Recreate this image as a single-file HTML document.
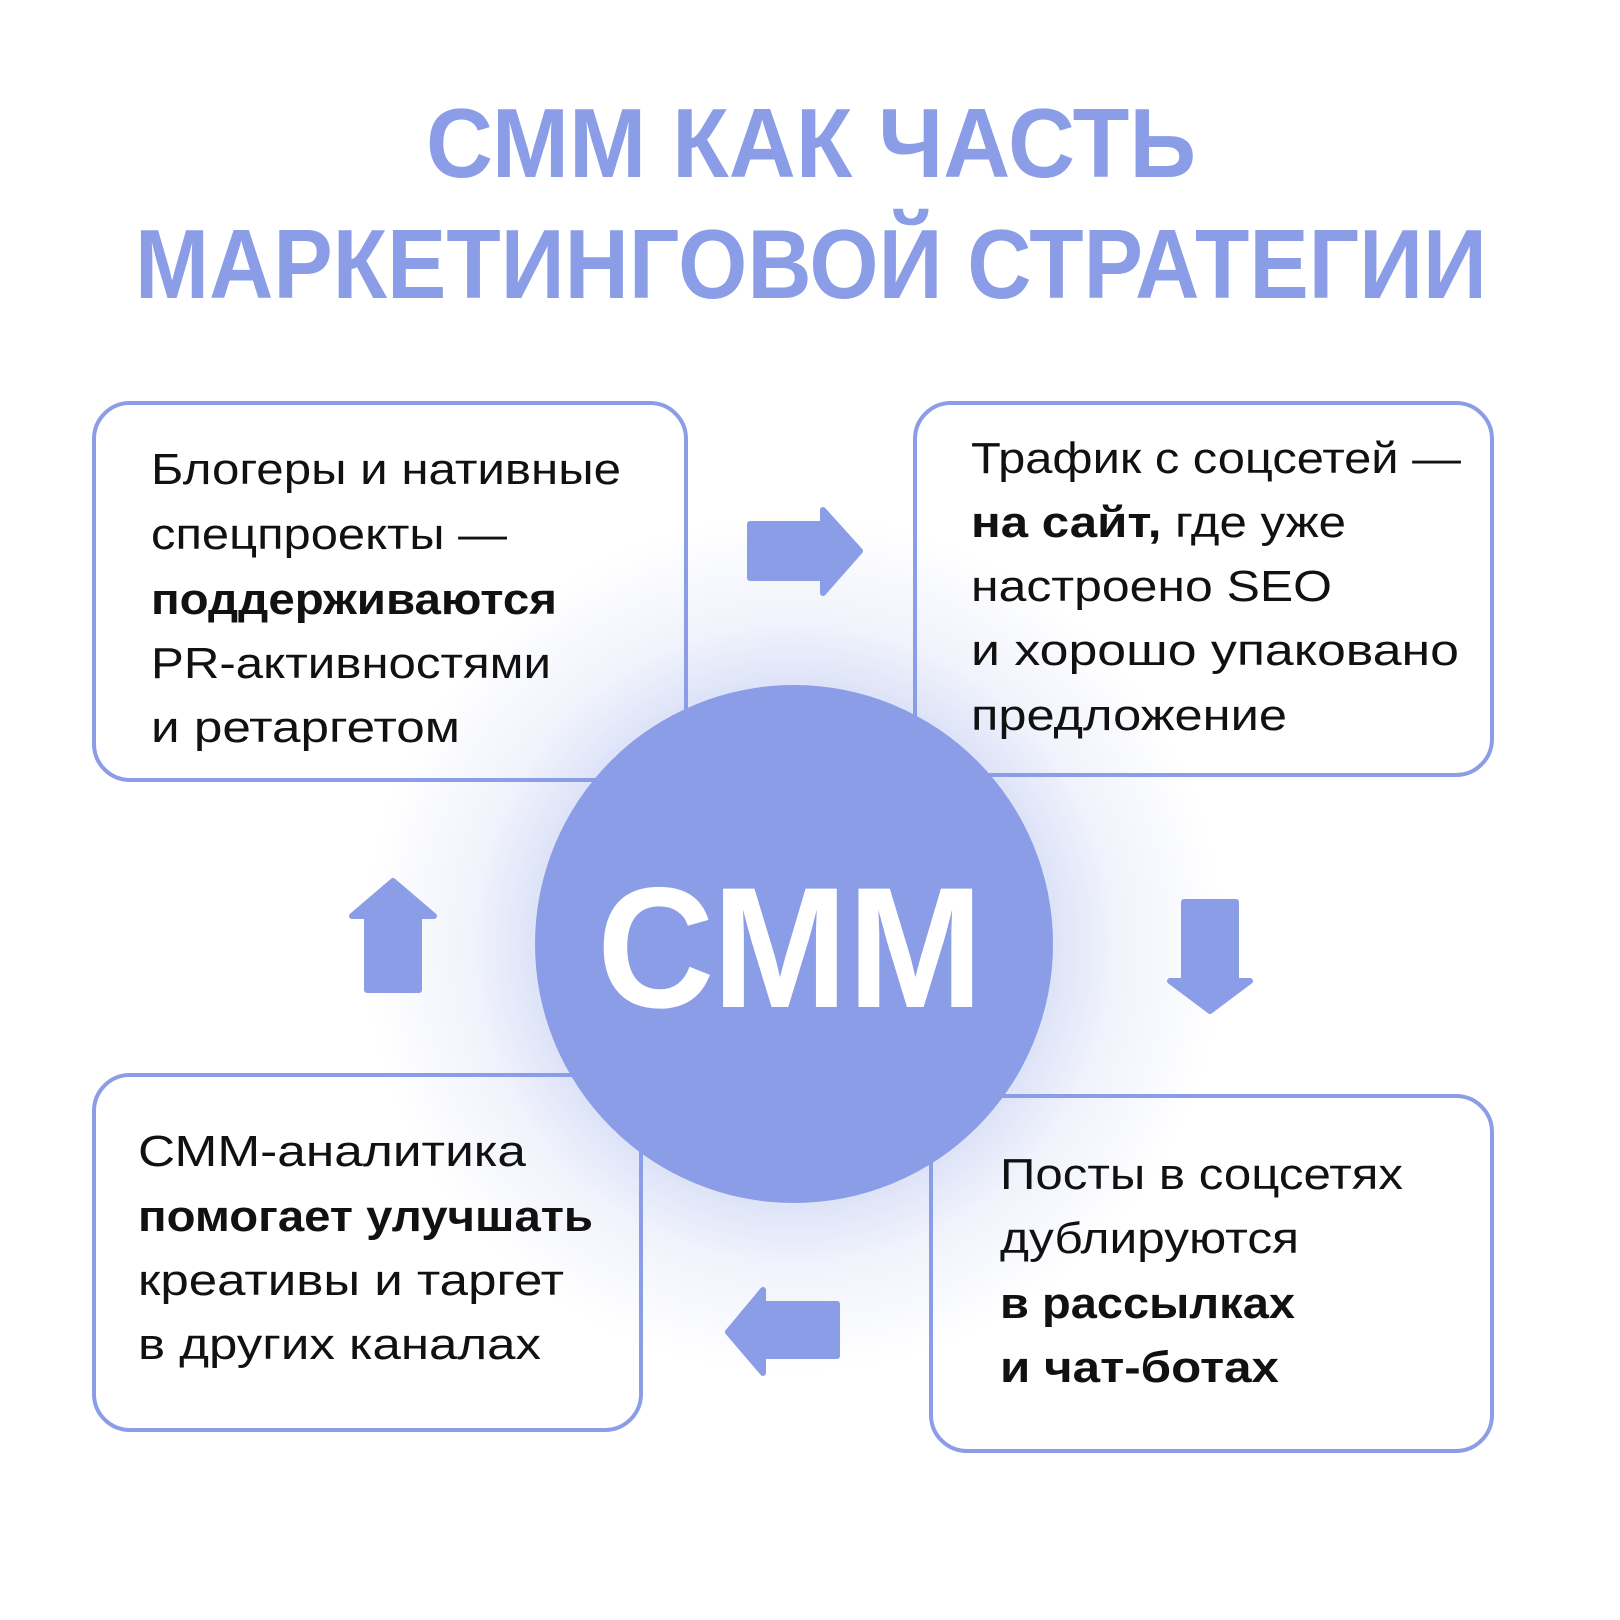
<!DOCTYPE html>
<html><head><meta charset="utf-8"><style>
html,body{margin:0;padding:0;background:#fff}
svg{display:block}
text{font-family:"Liberation Sans",sans-serif}
</style></head><body>
<svg width="1620" height="1620" viewBox="0 0 1620 1620" xmlns="http://www.w3.org/2000/svg">
<defs>
<radialGradient id="g" cx="794" cy="944" r="430" gradientUnits="userSpaceOnUse">
<stop offset="0.55" stop-color="#8a9de6" stop-opacity="0.35"/>
<stop offset="0.75" stop-color="#8a9de6" stop-opacity="0.12"/>
<stop offset="1" stop-color="#8a9de6" stop-opacity="0"/>
</radialGradient>
</defs>
<rect width="1620" height="1620" fill="#fff"/>
<g font-weight="bold" fill="#8a9de6" font-size="98" text-anchor="middle">
<text x="811" y="177" textLength="770" lengthAdjust="spacingAndGlyphs">СММ КАК ЧАСТЬ</text>
<text x="811" y="298" textLength="1352" lengthAdjust="spacingAndGlyphs">МАРКЕТИНГОВОЙ СТРАТЕГИИ</text>
</g>
<g fill="#fff" stroke="#8a9de6" stroke-width="4">
<rect x="94" y="403" width="592" height="377" rx="36"/>
<rect x="915" y="403" width="577" height="372" rx="36"/>
<rect x="94" y="1075" width="547" height="355" rx="36"/>
<rect x="931" y="1096" width="561" height="355" rx="36"/>
</g>
<circle cx="794" cy="944" r="430" fill="url(#g)"/>
<circle cx="794" cy="944" r="259" fill="#8a9de6"/>
<text x="790" y="1007" font-size="172" font-weight="bold" fill="#fff" text-anchor="middle" textLength="386" lengthAdjust="spacingAndGlyphs">СММ</text>
<g fill="#8a9de6" stroke="#8a9de6" stroke-width="6" stroke-linejoin="round">
<polygon points="750,524 823,524 823,510 860,551 823,593 823,578 750,578"/>
<polygon points="1184,902 1236,902 1236,981 1250,981 1210,1011 1170,981 1184,981"/>
<polygon points="837,1304 837,1356 763,1356 763,1373 728,1332 763,1290 763,1304"/>
<polygon points="367,990 419,990 419,916 434,916 393,881 352,916 367,916"/>
</g>
<g font-size="44" fill="#111" lengthAdjust="spacingAndGlyphs">
<text x="151" y="484" textLength="470" lengthAdjust="spacingAndGlyphs">Блогеры и нативные</text>
<text x="151" y="549" textLength="356" lengthAdjust="spacingAndGlyphs">спецпроекты —</text>
<text x="151" y="614" font-weight="bold" textLength="406" lengthAdjust="spacingAndGlyphs">поддерживаются</text>
<text x="151" y="678" textLength="400" lengthAdjust="spacingAndGlyphs">PR-активностями</text>
<text x="151" y="742" textLength="309" lengthAdjust="spacingAndGlyphs">и ретаргетом</text>

<text x="971" y="473" textLength="490" lengthAdjust="spacingAndGlyphs">Трафик с соцсетей —</text>
<text x="971" y="537" textLength="375" lengthAdjust="spacingAndGlyphs"><tspan font-weight="bold">на сайт,</tspan> где уже</text>
<text x="971" y="601" textLength="361" lengthAdjust="spacingAndGlyphs">настроено SEO</text>
<text x="971" y="665" textLength="488" lengthAdjust="spacingAndGlyphs">и хорошо упаковано</text>
<text x="971" y="730" textLength="316" lengthAdjust="spacingAndGlyphs">предложение</text>

<text x="138" y="1166" textLength="388" lengthAdjust="spacingAndGlyphs">СММ-аналитика</text>
<text x="138" y="1231" font-weight="bold" textLength="455" lengthAdjust="spacingAndGlyphs">помогает улучшать</text>
<text x="138" y="1295" textLength="426" lengthAdjust="spacingAndGlyphs">креативы и таргет</text>
<text x="138" y="1359" textLength="403" lengthAdjust="spacingAndGlyphs">в других каналах</text>

<text x="1000" y="1189" textLength="403" lengthAdjust="spacingAndGlyphs">Посты в соцсетях</text>
<text x="1000" y="1253" textLength="299" lengthAdjust="spacingAndGlyphs">дублируются</text>
<text x="1000" y="1318" font-weight="bold" textLength="295" lengthAdjust="spacingAndGlyphs">в рассылках</text>
<text x="1000" y="1382" font-weight="bold" textLength="279" lengthAdjust="spacingAndGlyphs">и чат-ботах</text>
</g>
</svg>
</body></html>
